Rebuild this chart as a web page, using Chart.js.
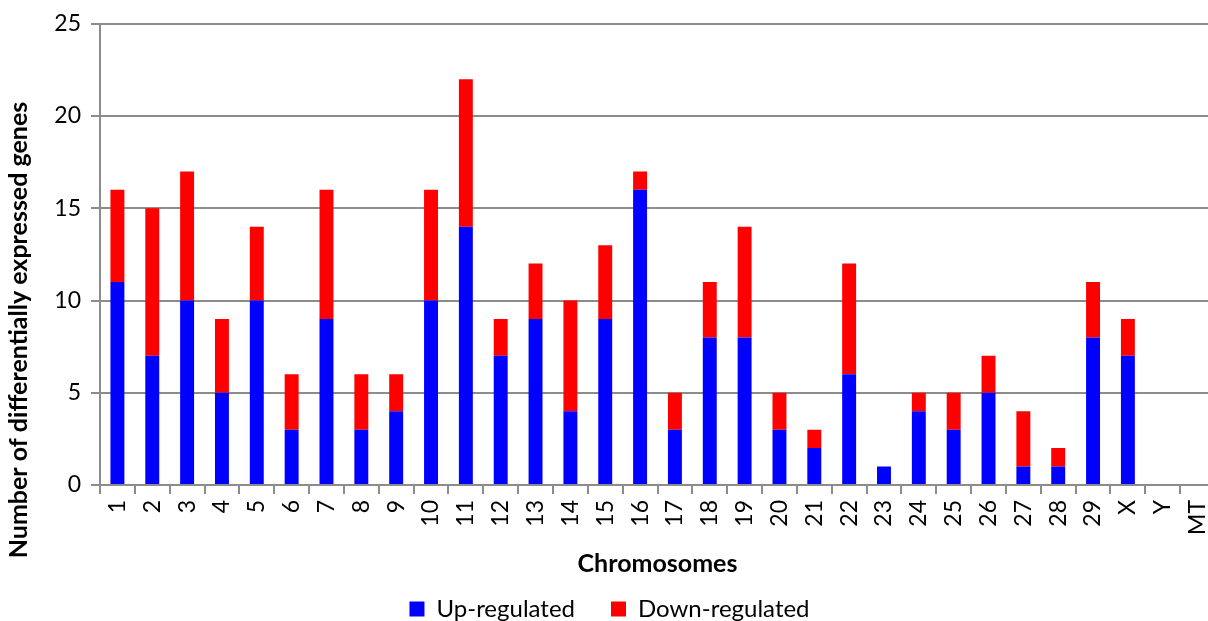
<!DOCTYPE html>
<html>
<head>
<meta charset="utf-8">
<script src="https://cdn.jsdelivr.net/npm/chart.js@4"></script>
<style>
  html, body { margin: 0; padding: 0; background: #fff; overflow: hidden; }
  canvas { display: block; }
</style>
</head>
<body>
<canvas id="chart" width="1215" height="621"></canvas>
<script>
const chromosomes = ['1','2','3','4','5','6','7','8','9','10','11','12','13','14','15','16',
  '17','18','19','20','21','22','23','24','25','26','27','28','29','X','Y','MT'];
const upRegulated   = [11, 7,10, 5,10, 3, 9, 3, 4,10,14, 7, 9, 4, 9,16, 3, 8, 8, 3, 2, 6, 1, 4, 3, 5, 1, 1, 8, 7, 0, 0];
const downRegulated = [ 5, 8, 7, 4, 4, 3, 7, 3, 2, 6, 8, 2, 3, 6, 4, 1, 2, 3, 6, 2, 1, 6, 0, 1, 2, 2, 3, 1, 3, 2, 0, 0];
const yTicks = [0, 5, 10, 15, 20, 25];
const yTitle = 'Number of differentially expressed genes';

const font = "Lato, 'Open Sans', sans-serif";
const gray = '#8c8c8c';

// y-axis title sits lower than chart-area centre in the original, so draw it here
const yTitlePlugin = {
    id: 'yTitle',
    afterDraw(chart) {
        const ctx = chart.ctx;
        ctx.save();
        ctx.translate(19, 330);
        ctx.rotate(-Math.PI / 2);
        ctx.font = "bold 25px " + font;
        ctx.fillStyle = '#000';
        ctx.textAlign = 'center';
        ctx.textBaseline = 'middle';
        ctx.fillText(yTitle, 0, 0);
        ctx.restore();
    }
};

new Chart(document.getElementById('chart'), {
    type: 'bar',
    data: {
        labels: chromosomes,
        datasets: [
            { label: 'Up-regulated', data: upRegulated, backgroundColor: '#0000ff', barPercentage: 0.4, categoryPercentage: 1.0 },
            { label: 'Down-regulated', data: downRegulated, backgroundColor: '#ff0000', barPercentage: 0.4, categoryPercentage: 1.0 }
        ]
    },
    plugins: [yTitlePlugin],
    options: {
        responsive: false,
        animation: false,
        layout: { padding: { left: 4, right: 0, top: 10, bottom: -10 } },
        plugins: {
            tooltip: { enabled: false },
            legend: {
                position: 'bottom',
                labels: {
                    font: { family: font, size: 24 },
                    color: '#000',
                    boxWidth: 15,
                    boxHeight: 15,
                    padding: 36
                }
            }
        },
        scales: {
            x: {
                stacked: true,
                afterFit: s => { s.paddingLeft = 0; s.paddingRight = 0; s.height = 76; },
                border: { color: gray, width: 2 },
                grid: { drawOnChartArea: false, drawTicks: true, tickLength: 9, color: gray, lineWidth: 2, offset: true },
                ticks: {
                    minRotation: 90, maxRotation: 90, autoSkip: false, padding: 6,
                    color: '#000', font: { family: font, size: 23 }
                },
                title: {
                    display: true, text: 'Chromosomes', color: '#000',
                    font: { family: font, size: 25, weight: 'bold' }, padding: { top: 0, bottom: -18 }
                }
            },
            y: {
                stacked: true,
                min: 0, max: 25,
                afterBuildTicks: s => { s.ticks = yTicks.map(v => ({ value: v })); },
                afterFit: s => { s.width = 96; },
                border: { color: gray, width: 2 },
                grid: { color: gray, lineWidth: 2, tickLength: 9 },
                ticks: { color: '#000', font: { family: font, size: 23 }, padding: 10 }
            }
        }
    }
});
</script>
</body>
</html>
